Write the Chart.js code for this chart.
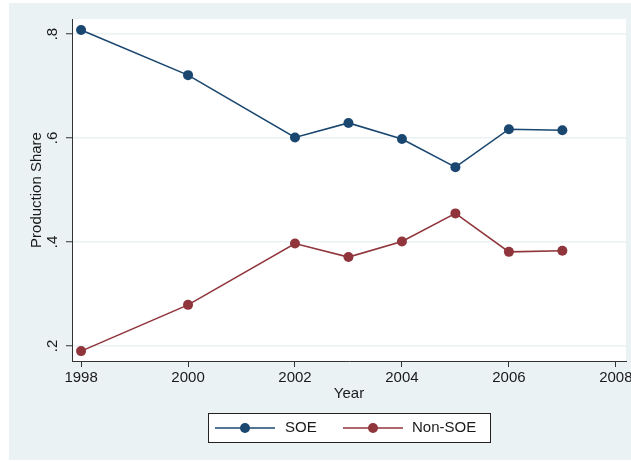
<!DOCTYPE html>
<html>
<head>
<meta charset="utf-8">
<script src="https://cdn.jsdelivr.net/npm/chart.js@4/dist/chart.umd.min.js"></script>
<style>
  html, body { margin: 0; padding: 0; background: #ffffff; }
  #wrap { width: 631px; height: 461px; }
</style>
</head>
<body>
<div id="wrap"><canvas id="c" width="631" height="461"></canvas></div>
<script>
// Production share by ownership type, 1998-2007
const years   = [1998, 2000, 2002, 2003, 2004, 2005, 2006, 2007];
const soe     = [0.808, 0.721, 0.601, 0.629, 0.598, 0.544, 0.617, 0.615];
const nonSoe  = [0.190, 0.279, 0.397, 0.371, 0.401, 0.455, 0.381, 0.383];
const yTicks  = [0.2, 0.4, 0.6, 0.8];
const yTickLabels = ['.2', '.4', '.6', '.8'];
const xTicks  = [1998, 2000, 2002, 2004, 2006, 2008];

const BG = '#EAF2F3';
const INK = '#1a1a1a';
const FONT = 'Liberation Sans, Arial, sans-serif';

// Outer graph region and white plot region
const backdrop = {
  id: 'backdrop',
  beforeDraw(chart) {
    const ctx = chart.ctx, a = chart.chartArea;
    ctx.save();
    ctx.fillStyle = '#ffffff';
    ctx.fillRect(0, 0, chart.width, chart.height);
    ctx.fillStyle = BG;
    ctx.fillRect(9, 3, chart.width - 9, chart.height - 4);
    ctx.fillStyle = '#ffffff';
    ctx.fillRect(a.left, a.top, a.right - a.left, a.bottom - a.top);
    ctx.restore();
  }
};

// Boxed legend below the axis: line-with-marker keys
const boxLegend = {
  id: 'boxLegend',
  afterDraw(chart) {
    const ctx = chart.ctx;
    const bx = 208, by = 413, bw = 282, bh = 29;
    ctx.save();
    ctx.fillStyle = '#ffffff';
    ctx.fillRect(bx, by, bw, bh);
    ctx.strokeStyle = '#222';
    ctx.lineWidth = 1;
    ctx.strokeRect(bx + 0.5, by + 0.5, bw, bh);
    const cy = by + bh / 2 + 0.5;
    const keys = [{ x0: 215, tx: 285 }, { x0: 343, tx: 412 }];
    chart.data.datasets.forEach((ds, i) => {
      const k = keys[i];
      ctx.strokeStyle = ds.borderColor;
      ctx.lineWidth = 1.6;
      ctx.beginPath();
      ctx.moveTo(k.x0, cy);
      ctx.lineTo(k.x0 + 60, cy);
      ctx.stroke();
      ctx.fillStyle = ds.pointBackgroundColor;
      ctx.beginPath();
      ctx.arc(k.x0 + 30, cy, 5, 0, Math.PI * 2);
      ctx.fill();
      ctx.fillStyle = INK;
      ctx.font = '15px ' + FONT;
      ctx.textBaseline = 'middle';
      ctx.textAlign = 'left';
      ctx.fillText(ds.label, k.tx, cy);
    });
    ctx.restore();
  }
};

const toPoints = (vals) => years.map((y, i) => ({ x: y, y: vals[i] }));

new Chart(document.getElementById('c'), {
  type: 'line',
  data: {
    datasets: [
      {
        label: 'SOE',
        data: toPoints(soe),
        borderColor: '#1A476F',
        backgroundColor: '#1A476F',
        pointBackgroundColor: '#1A476F',
        pointBorderColor: '#1A476F',
        borderWidth: 1.6,
        pointRadius: 5,
        pointBorderWidth: 0,
        tension: 0
      },
      {
        label: 'Non-SOE',
        data: toPoints(nonSoe),
        borderColor: '#90353B',
        backgroundColor: '#90353B',
        pointBackgroundColor: '#90353B',
        pointBorderColor: '#90353B',
        borderWidth: 1.6,
        pointRadius: 5,
        pointBorderWidth: 0,
        tension: 0
      }
    ]
  },
  options: {
    responsive: false,
    animation: false,
    events: [],
    layout: { padding: { left: 9, top: 19, right: 4, bottom: 58 } },
    plugins: { legend: { display: false }, tooltip: { enabled: false } },
    scales: {
      x: {
        type: 'linear',
        min: 1997.83,
        max: 2008.19,
        afterBuildTicks(s) { s.ticks = xTicks.map(v => ({ value: v })); },
        afterFit(s) { s.height = 42; s.paddingLeft = 0; s.paddingRight = 0; },
        ticks: {
          color: INK,
          font: { family: FONT, size: 15 },
          padding: 2,
          maxRotation: 0,
          autoSkip: false,
          callback: (v) => String(v)
        },
        grid: {
          drawOnChartArea: false,
          drawTicks: true,
          tickLength: 6,
          tickColor: '#333',
          tickWidth: 1
        },
        border: { display: true, color: '#333', width: 1 },
        title: {
          display: true,
          text: 'Year',
          color: INK,
          font: { family: FONT, size: 15 },
          padding: { top: 0, bottom: 0 }
        }
      },
      y: {
        type: 'linear',
        min: 0.171,
        max: 0.829,
        afterBuildTicks(s) { s.ticks = yTicks.map(v => ({ value: v })); },
        afterFit(s) { s.width = 63; s.paddingTop = 0; s.paddingBottom = 0; },
        ticks: {
          color: INK,
          font: { family: FONT, size: 15 },
          padding: 7,
          minRotation: 90,
          maxRotation: 90,
          crossAlign: 'center',
          autoSkip: false,
          callback: (v) => yTickLabels[yTicks.indexOf(v)]
        },
        grid: {
          color: BG,
          lineWidth: 1.5,
          drawTicks: true,
          tickLength: 6,
          tickColor: '#333',
          tickWidth: 1
        },
        border: { display: true, color: '#333', width: 1 },
        title: {
          display: true,
          text: 'Production Share',
          color: INK,
          font: { family: FONT, size: 15 },
          padding: { top: 19, bottom: 0 }
        }
      }
    }
  },
  plugins: [backdrop, boxLegend]
});
</script>
</body>
</html>
